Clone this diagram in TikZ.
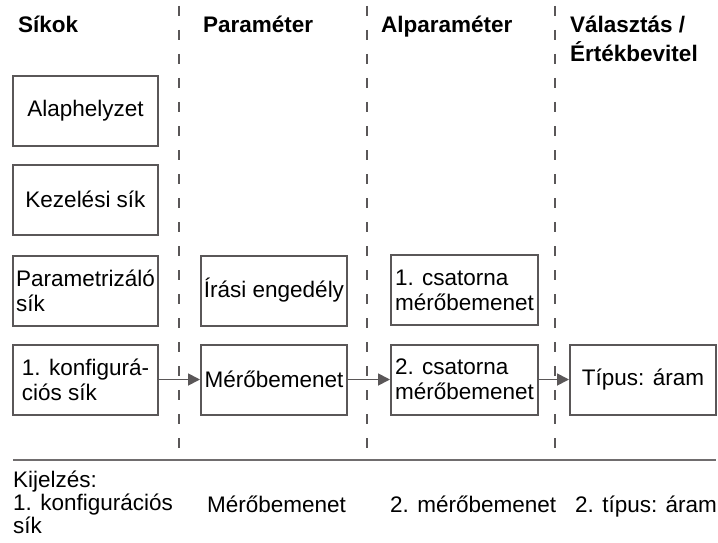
\documentclass[tikz,border=0pt]{standalone}
\usepackage{fontspec}
\setmainfont{Liberation Sans}
\usetikzlibrary{arrows.meta}
\definecolor{grey}{cmyk}{0,0,0,0.75}
\definecolor{lgrey}{cmyk}{0,0,0,0.65}

\begin{document}
\begin{tikzpicture}[x=1pt,y=-1pt]
    \tikzset{%
      box/.style={draw=grey, fill=white, line width=2pt, inner sep=2pt,
        minimum width=145pt, minimum height=70pt, align=center,
        font=\fontsize{22.5}{25}\selectfont},
      lbox/.style={box, align=left},
      head/.style={anchor=base west, inner sep=0pt, align=left,
        font=\fontsize{22.5}{29}\selectfont\bfseries},
      disp/.style={anchor=base west, inner sep=0pt, align=left,
        font=\fontsize{22.5}{21}\selectfont},
      sep/.style={grey, line width=1.6pt, dash pattern=on 10pt off 14pt},
      link/.style={grey, line width=1.8pt, -{Triangle[length=12pt,width=12pt]}},
    }
    \useasboundingbox (0,0) rectangle (718,543);

    % column separators
    \foreach \x/\n in {179/1,367/2,555/3} {
      \coordinate (S\n) at (\x,6);
      \coordinate (T\n) at (\x,460);
      \draw [sep] (S\n) -- (T\n);
    }
    \coordinate (L0) at (13,460);
    \coordinate (L1) at (716,460);
    \draw [lgrey, line width=1.6pt] (L0) -- (L1);

    % headers (base = last line)
    \node[head] (H1) at (18,33) {Síkok};
    \node[head] (H2) at (203,33) {Paraméter};
    \node[head] (H3) at (381,33) {Alparaméter};
    \node[head] (H4) at (570,62) {Választás /\\Értékbevitel};

    \node[box] (A) at (85.5,111) {Alaphelyzet};
    \node[box] (B) at (85.5,199.5) {Kezelési sík};
    \node[lbox] (C) at (85.5,290.5) {Parametrizáló\\sík};
    \node[lbox] (D) at (85.5,379.5) {1. konfigurá-\\ciós sík};

    \node[box, minimum width=146pt] (P1) at (274,290.5) {Írási engedély};
    \node[box, minimum width=146pt] (P2) at (274,379.5) {Mérőbemenet};

    \node[lbox, minimum width=147pt] (Q1) at (464.5,290) {1. csatorna\\mérőbemenet};
    \node[lbox, minimum width=147pt] (Q2) at (464.5,379.5) {2. csatorna\\mérőbemenet};

    \node[box, minimum width=146pt] (R) at (643,379.5) {Típus: áram};

    \draw [link] (D) -- (P2);
    \draw [link] (P2) -- (Q2);
    \draw [link] (Q2) -- (R);

    \node[disp] (K0) at (13,487) {Kijelzés:};
    \node[disp] (K1) at (13,533) {1. konfigurációs\\sík};
    \node[disp] (K2) at (207,512) {Mérőbemenet};
    \node[disp] (K3) at (390,512) {2. mérőbemenet};
    \node[disp] (K4) at (575,512) {2. típus: áram};
  \end{tikzpicture}
\end{document}
